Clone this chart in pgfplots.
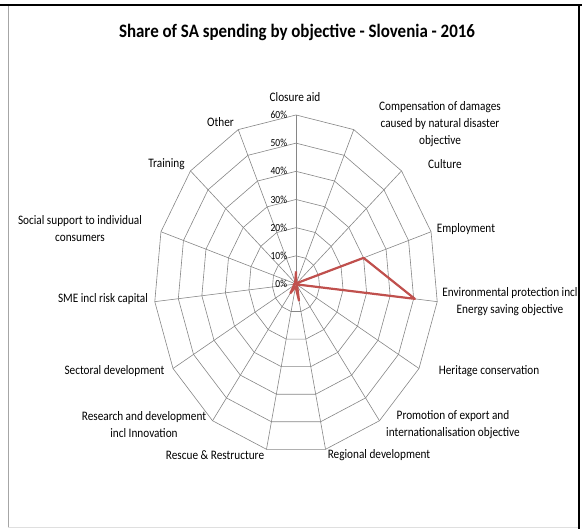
\documentclass[border=0pt]{standalone}
\usepackage{pgfplots}
\pgfplotsset{compat=1.18}
\usepackage{pgfplotstable}
\usepackage{fontspec}
\setmainfont{Carlito}
\definecolor{serRed}{HTML}{C0504D}
\definecolor{gridGray}{HTML}{868686}

% angle = 90 - 24*i (clockwise from top), value = share in %
\pgfplotstableread{
angle value
90    4.5
66    0.3
42    0.5
18    30
-6    50.5
-30   0.3
-54   0.8
-78   6
-102  1
-126  4
-150  1
-174  1
-198  0.3
-222  0.5
-246  0.8
-270  4.5
}\sharetab

\begin{document}
\begin{tikzpicture}[x=1bp,y=1bp]
\path[use as bounding box] (0,0) rectangle (582,529);
% frame
\draw[gray!70, line width=0.8bp] (8,524) -- (8,2);
\draw[gray!25, line width=0.8bp] (8,2) -- (579,2);
\draw[black, line width=2.2bp] (0,524) -- (582,524);
\draw[black, line width=2bp] (579,524) -- (579,0);

\begin{axis}[
  at={(296bp,245bp)}, anchor=center,
  x=2.3667bp, y=2.8167bp,
  xmin=-60, xmax=60, ymin=-60, ymax=60,
  hide axis, clip=false,
  ]
  % rings
  \pgfplotsinvokeforeach{10,20,30,40,50,60}{
    \addplot[gridGray, line width=0.6bp, data cs=polar, mark=none]
      table[x=angle, y expr=#1] {\sharetab};
  }
  % spokes
  \pgfplotsinvokeforeach{90,66,42,18,-6,-30,-54,-78,-102,-126,-150,-174,-198,-222,-246}{
    \addplot[gridGray, line width=0.6bp, data cs=polar, mark=none]
      coordinates {(#1,0) (#1,60)};
  }
  % series
  \addplot[serRed, line width=2.2bp, line join=round, data cs=polar, mark=none]
    table[x=angle, y=value] {\sharetab};
  % radial tick labels
  \pgfplotsinvokeforeach{0,10,20,30,40,50,60}{
    \node[anchor=east, font=\fontsize{9.5}{11}\selectfont, inner sep=0pt,
          yscale=1.15, transform shape]
      at (axis cs:-3.7,#1) {#1\%};
  }
\end{axis}

% title
\node[font=\fontsize{17}{20}\selectfont\bfseries, yscale=1.12, transform shape]
  at (297,497) {Share of SA spending by objective - Slovenia - 2016};

% category labels
\begin{scope}[every node/.style={font=\fontsize{11.3}{15}\selectfont, align=center,
    inner sep=0pt, yscale=1.15, transform shape}]
\node at (295,432) {Closure aid};
\node at (440,405) {Compensation of damages\\caused by natural disaster\\objective};
\node at (445,365) {Culture};
\node at (466,300) {Employment};
\node at (510,227.5) {Environmental protection incl\\Energy saving objective};
\node at (489,158) {Heritage conservation};
\node at (453,104.5) {Promotion of export and\\internationalisation objective};
\node at (379,74) {Regional development};
\node at (215,74) {Rescue \& Restructure};
\node at (144,104.5) {Research and development\\incl Innovation};
\node at (114.5,158) {Sectoral development};
\node at (103,230) {SME incl risk capital};
\node at (80,300.5) {Social support to individual\\consumers};
\node at (166.5,365) {Training};
\node at (220.5,407) {Other};
\end{scope}
\end{tikzpicture}
\end{document}
